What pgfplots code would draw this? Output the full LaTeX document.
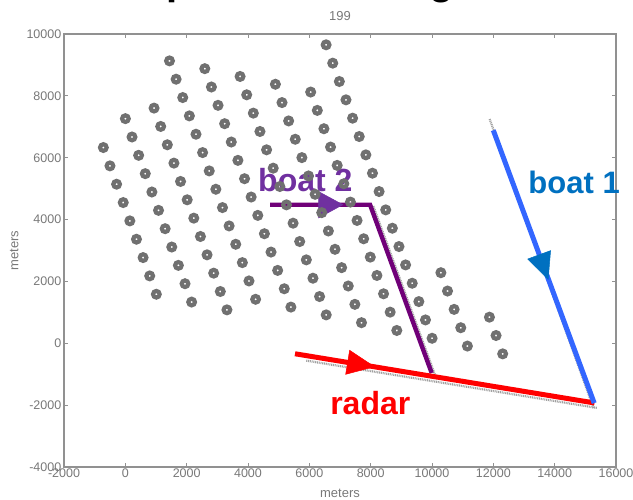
\documentclass[border=0pt]{standalone}
\usepackage{fontspec}
\setmainfont{Liberation Sans}
\usepackage{pgfplots}
\pgfplotsset{compat=1.18}
\usetikzlibrary{arrows.meta}
\definecolor{dotgray}{RGB}{112,112,112}
\definecolor{axgray}{RGB}{145,145,145}
\definecolor{lblgray}{RGB}{120,120,120}
\definecolor{btwoline}{RGB}{112,0,120}
\definecolor{btwoarrow}{RGB}{112,48,160}
\definecolor{boneline}{RGB}{51,102,255}
\definecolor{bonearrow}{RGB}{0,112,192}
\definecolor{trace}{RGB}{160,160,160}
\pgfplotstableread{
x y
-717 6329
-501 5736
-285 5143
-69 4550
147 3957
363 3364
579 2771
795 2178
1011 1585
2 7263
218 6670
434 6077
650 5484
866 4891
1082 4298
1298 3705
1514 3112
1730 2519
1946 1926
2162 1333
937 7604
1153 7011
1369 6418
1585 5825
1801 5232
2017 4639
2233 4046
2449 3453
2665 2860
2881 2267
3097 1674
3313 1081
1440 9131
1656 8538
1872 7945
2088 7352
2304 6759
2520 6166
2736 5573
2952 4980
3168 4387
3384 3794
3600 3201
3816 2608
4032 2015
4248 1422
2591 8879
2807 8286
3023 7693
3239 7100
3455 6507
3671 5914
3887 5321
4103 4728
4319 4135
4535 3542
4751 2949
4967 2356
5183 1763
5399 1170
3742 8627
3958 8034
4174 7441
4390 6848
4606 6255
4822 5662
5038 5069
5254 4476
5470 3883
5686 3290
5902 2697
6118 2104
6334 1511
6550 918
4893 8375
5109 7782
5325 7189
5541 6596
5757 6003
5973 5410
6189 4817
6405 4224
6621 3631
6837 3038
7053 2445
7269 1852
7485 1259
7701 666
6044 8123
6260 7530
6476 6937
6692 6344
6908 5751
7124 5158
7340 4565
7556 3972
7772 3379
7988 2786
8204 2193
8420 1600
8636 1007
8852 414
6547 9650
6763 9057
6979 8464
7195 7871
7411 7278
7627 6685
7843 6092
8059 5499
8275 4906
8491 4313
8707 3720
8923 3127
9139 2534
9355 1941
9571 1348
9787 755
10003 162
10290 2282
10506 1689
10722 1096
10938 503
11154 -90
11873 844
12089 251
12305 -342
}\dots
\begin{document}
\begin{tikzpicture}
\useasboundingbox (0,0) rectangle (633pt,500pt);
\node[anchor=base west, inner sep=0, font=\fontsize{40}{44}\selectfont\bfseries] at (166pt,505pt) {p};
\node[anchor=base west, inner sep=0, font=\fontsize{40}{44}\selectfont\bfseries] at (429pt,505.5pt) {g};
\begin{axis}[
  at={(64pt,33pt)}, anchor=south west,
  scale only axis, width=552pt, height=433pt,
  xmin=-2000, xmax=16000, ymin=-4000, ymax=10000,
  xtick={-2000,0,...,16000}, ytick={-4000,-2000,...,10000},
  scaled ticks=false,
  /pgf/number format/1000 sep={},
  /pgf/number format/assume math mode=true,
  tick align=inside, tick pos=both,
  major tick length=4pt,
  axis line style={axgray, line width=1.3pt},
  tick style={axgray, line width=0.9pt},
  ticklabel style={font=\fontsize{12.5}{14}\selectfont, text=lblgray},
  xticklabel style={inner sep=2pt},
  yticklabel style={inner sep=2.5pt},
  xlabel={meters}, ylabel={meters}, title={199},
  label style={font=\fontsize{13}{15}\selectfont, text=lblgray},
  xlabel style={at={(axis description cs:0.5,-0.06)}, anchor=center},
  ylabel style={at={(axis description cs:-0.09,0.5)}, anchor=center, rotate=0},
  title style={at={(axis description cs:0.5,1.028)}, anchor=center, font=\fontsize{13}{15}\selectfont, text=lblgray},
  clip=false,
]
% gray radar speckle traces
\addplot[trace, line width=2.2pt, dash pattern=on 1pt off 0.8pt] coordinates {(11880,7250) (15270,-2100)};
\addplot[trace, line width=2.2pt, dash pattern=on 1pt off 0.8pt] coordinates {(5900,-560) (15380,-2090)};
\addplot[trace, line width=2.2pt, dash pattern=on 1pt off 0.8pt] coordinates {(8087,4436) (10131,-1113)};
% dots
\addplot[only marks, mark=o, mark size=3.3pt, mark options={draw=dotgray, line width=4.2pt}] table {\dots};
% boat 2
\addplot[btwoline, line width=4.4pt, line join=miter] coordinates {(4718,4480) (7980,4480) (9990,-960)};
\addplot[btwoarrow, line width=0.5pt, -{Triangle[length=25pt,width=27pt]}] coordinates {(6290,4480) (7110,4480)};
% radar
\addplot[red, line width=5pt] coordinates {(5533,-339) (15300,-1930)};
\addplot[red, line width=0.5pt, -{Triangle[length=28pt,width=25pt]}] coordinates {(7229,-612) (8142,-761)};
% boat 1
\addplot[boneline, line width=5pt] coordinates {(11999,6887) (15290,-1935)};
\addplot[bonearrow, line width=0.5pt, -{Triangle[length=27pt,width=25pt]}] coordinates {(13488,2877) (13795,2048)};
% labels
\node[anchor=base west, inner sep=0, text=btwoarrow, font=\fontsize{32}{36}\selectfont\bfseries] at (axis cs:4327,4897) {boat 2};
\node[anchor=base west, inner sep=0, text=bonearrow, font=\fontsize{31}{36}\selectfont\bfseries] at (axis cs:13140,4855) {boat 1};
\node[anchor=base west, inner sep=0, text=red, font=\fontsize{32}{36}\selectfont\bfseries] at (axis cs:6676,-2306) {radar};
\end{axis}
\end{tikzpicture}
\end{document}
